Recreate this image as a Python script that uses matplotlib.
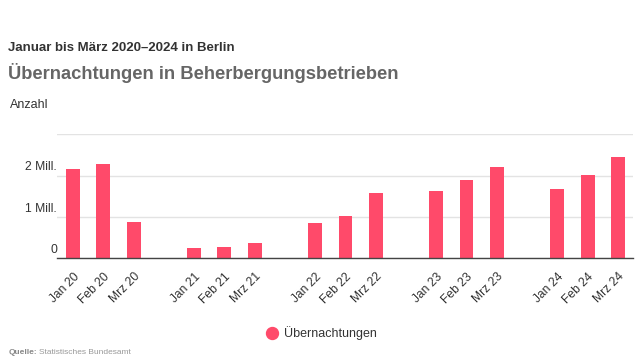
import matplotlib.pyplot as plt
import matplotlib.transforms as mtransforms
from matplotlib.lines import Line2D

# Übernachtungen, Januar bis März, in Mill.
labels = ["Jan 20", "Feb 20", "Mrz 20",
          "Jan 21", "Feb 21", "Mrz 21",
          "Jan 22", "Feb 22", "Mrz 22",
          "Jan 23", "Feb 23", "Mrz 23",
          "Jan 24", "Feb 24", "Mrz 24"]
values = [2.17, 2.28, 0.87,
          0.25, 0.27, 0.36,
          0.85, 1.02, 1.58,
          1.62, 1.90, 2.20,
          1.68, 2.02, 2.45]
ytick_vals = [0, 1, 2, 3]
ytick_labels = ["0", "1 Mill.", "2 Mill.", ""]

plt.rcParams['font.family'] = ['Liberation Sans', 'DejaVu Sans']

bar_color = "#ff4a6a"
text_dark = "#333333"

# one empty slot between years
xpos = [i + i // 3 for i in range(len(values))]

fig = plt.figure(figsize=(6.42, 3.6), dpi=100)
ax = fig.add_axes([0.0888, 0.2833, 0.8972, 0.3437])

ax.bar(xpos, values, width=0.46, color=bar_color, zorder=3)

ax.set_xlim(-0.53, 18.5)
ax.set_ylim(0, 3)
ax.set_yticks(ytick_vals)
ax.set_yticklabels(ytick_labels)
ax.yaxis.grid(True, color="#e3e3e3", linewidth=1, zorder=0)
ax.tick_params(axis="y", length=0, pad=0, labelsize=8.7, labelcolor=text_dark)
offset = mtransforms.ScaledTranslation(0, 1.5 / 72, fig.dpi_scale_trans)
for lab in ax.get_yticklabels():
    lab.set_va("bottom")
    lab.set_transform(lab.get_transform() + offset)

ax.set_xticks(xpos)
ax.set_xticklabels(labels, rotation=45, ha="right", va="top",
                   rotation_mode="anchor")
ax.tick_params(axis="x", length=0, pad=9, labelsize=8.7, labelcolor=text_dark)

for s in ["top", "right", "left"]:
    ax.spines[s].set_visible(False)
ax.spines["bottom"].set_color("#444444")
ax.spines["bottom"].set_linewidth(1)
ax.spines["bottom"].set_zorder(4)

fig.text(0.0125, 1 - 48 / 360, "Januar bis März 2020–2024 in Berlin",
         fontsize=9.5, fontweight="bold", color=text_dark, va="center")
fig.text(0.0125, 1 - 73 / 360, "Übernachtungen in Beherbergungsbetrieben",
         fontsize=13.2, fontweight="bold", color="#666666", va="center")
fig.text(0.0156, 1 - 105 / 360, "Anzahl",
         fontsize=9, color=text_dark, va="center")

handle = Line2D([], [], marker="o", linestyle="none", markersize=8.6,
                markerfacecolor=bar_color, markeredgecolor=bar_color)
fig.legend([handle], ["Übernachtungen"], loc="center",
           bbox_to_anchor=(0.5, 1 - 333 / 360), frameon=False,
           fontsize=9, handletextpad=0.35, handlelength=1.2,
           labelcolor=text_dark)

fig.text(0.014, 1 - 352 / 360, "Quelle:", fontsize=6, fontweight="bold",
         color="#888888", va="center")
fig.text(0.014 + 0.046, 1 - 352 / 360, "Statistisches Bundesamt",
         fontsize=6, color="#999999", va="center")

fig.savefig("out.png", dpi=100, facecolor="white")
